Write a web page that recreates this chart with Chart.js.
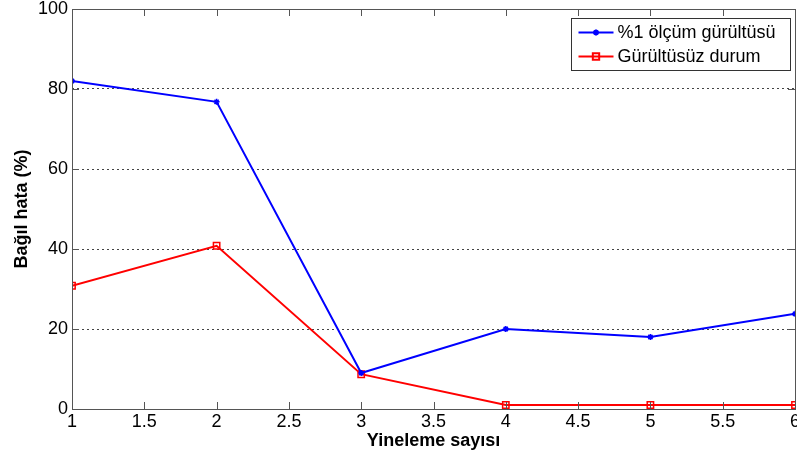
<!DOCTYPE html>
<html>
<head>
<meta charset="utf-8">
<script src="https://cdn.jsdelivr.net/npm/chart.js@4"></script>
<style>
  html, body { margin: 0; padding: 0; background: #fff; overflow: hidden; width: 797px; height: 459px; }
  #wrap { width: 801px; height: 459px; position: relative; }
</style>
</head>
<body>
<div id="wrap"><canvas id="chart"></canvas></div>
<script>
// iteration counts and relative error (%) for the two runs
const iterations = [1, 2, 3, 4, 5, 6];
const noisyError = [82, 76.8, 9, 20, 18, 23.8];
const cleanError = [30.8, 40.8, 8.7, 1, 1, 1];
const seriesNames = ['%1 ölçüm gürültüsü', 'Gürültüsüz durum'];
const xTicks = [1, 1.5, 2, 2.5, 3, 3.5, 4, 4.5, 5, 5.5, 6];
const yTicks = [0, 20, 40, 60, 80, 100];

const FONT = "'Liberation Sans', Arial, sans-serif";
const AXIS = '#555';

const toPoints = ys => iterations.map((x, i) => ({ x, y: ys[i] }));

// box round the plot area with inward tick marks on all four sides
const framePlugin = {
  id: 'frame',
  afterDatasetsDraw(chart) {
    const { ctx, chartArea: a, scales } = chart;
    const len = 7;
    ctx.save();
    ctx.strokeStyle = AXIS;
    ctx.lineWidth = 1;
    ctx.beginPath();
    xTicks.forEach(v => {
      const px = Math.round(scales.x.getPixelForValue(v)) + 0.5;
      ctx.moveTo(px, a.bottom); ctx.lineTo(px, a.bottom - len);
      ctx.moveTo(px, a.top); ctx.lineTo(px, a.top + len);
    });
    yTicks.forEach(v => {
      const py = Math.round(scales.y.getPixelForValue(v)) + 0.5;
      ctx.moveTo(a.left, py); ctx.lineTo(a.left + len, py);
      ctx.moveTo(a.right, py); ctx.lineTo(a.right - len, py);
    });
    ctx.stroke();
    ctx.strokeRect(Math.round(a.left) + 0.5, Math.round(a.top) + 0.5,
      Math.round(a.right - a.left), Math.round(a.bottom - a.top));
    ctx.restore();
  }
};

// legend in a framed box at the top right of the plot
const boxLegend = {
  id: 'boxLegend',
  afterDraw(chart) {
    const { ctx } = chart;
    const x0 = 571.5, y0 = 18.5, w = 219, h = 52;
    ctx.save();
    ctx.fillStyle = '#fff';
    ctx.fillRect(x0, y0, w, h);
    ctx.strokeStyle = '#333';
    ctx.lineWidth = 1;
    ctx.strokeRect(x0, y0, w, h);
    ctx.font = '18px ' + FONT;
    ctx.textBaseline = 'middle';
    chart.data.datasets.forEach((ds, i) => {
      const cy = y0 + 14 + i * 24;
      ctx.strokeStyle = ds.borderColor;
      ctx.lineWidth = 2;
      ctx.beginPath();
      ctx.moveTo(x0 + 7, cy); ctx.lineTo(x0 + 42, cy);
      ctx.stroke();
      ctx.fillStyle = ds.backgroundColor;
      Chart.helpers.drawPoint(ctx, {
        pointStyle: ds.pointStyle, radius: ds.pointRadius, borderWidth: 1.5
      }, x0 + 24.5, cy);
      ctx.fillStyle = '#000';
      ctx.fillText(ds.label, x0 + 46, cy + 1);
    });
    ctx.restore();
  }
};

new Chart(document.getElementById('chart'), {
  type: 'line',
  data: {
    datasets: [
      {
        label: seriesNames[0],
        data: toPoints(noisyError),
        borderColor: '#0000ff',
        backgroundColor: '#0000ff',
        borderWidth: 2,
        pointStyle: 'star',
        pointRadius: 3,
        pointBorderWidth: 1.5,
        tension: 0
      },
      {
        label: seriesNames[1],
        data: toPoints(cleanError),
        borderColor: '#ff0000',
        backgroundColor: 'rgba(0,0,0,0)',
        borderWidth: 2,
        pointStyle: 'rect',
        pointRadius: 4.5,
        pointBorderWidth: 1.5,
        tension: 0
      }
    ]
  },
  options: {
    responsive: true,
    maintainAspectRatio: false,
    animation: false,
    layout: { padding: { top: 9, right: 1, left: 0, bottom: 0 } },
    plugins: {
      legend: { display: false },
      tooltip: { enabled: false }
    },
    scales: {
      x: {
        type: 'linear',
        min: 1,
        max: 6,
        afterBuildTicks: s => { s.ticks = xTicks.map(v => ({ value: v })); },
        afterFit: s => { s.height = 50; s.paddingLeft = 0; s.paddingRight = 0; },
        grid: { display: false, drawTicks: false },
        border: { display: false },
        ticks: {
          color: '#000',
          padding: 2,
          maxRotation: 0,
          font: { family: FONT, size: 18 },
          callback: v => String(v)
        },
        title: {
          display: true,
          text: 'Yineleme sayısı',
          color: '#000',
          padding: { top: 0, bottom: 7 },
          font: { family: FONT, size: 18, weight: 'bold' }
        }
      },
      y: {
        min: 0,
        max: 100,
        afterBuildTicks: s => { s.ticks = yTicks.map(v => ({ value: v })); },
        afterFit: s => { s.width = 72; s.paddingTop = 0; s.paddingBottom = 0; },
        grid: {
          drawTicks: false,
          color: '#444',
          lineWidth: 1
        },
        border: { display: false, dash: [2, 3] },
        ticks: {
          color: '#000',
          padding: 4,
          font: { family: FONT, size: 18 }
        },
        title: {
          display: true,
          text: 'Bağıl hata (%)',
          color: '#000',
          padding: { top: 11, bottom: 0 },
          font: { family: FONT, size: 18, weight: 'bold' }
        }
      }
    }
  },
  plugins: [framePlugin, boxLegend]
});
</script>
</body>
</html>
